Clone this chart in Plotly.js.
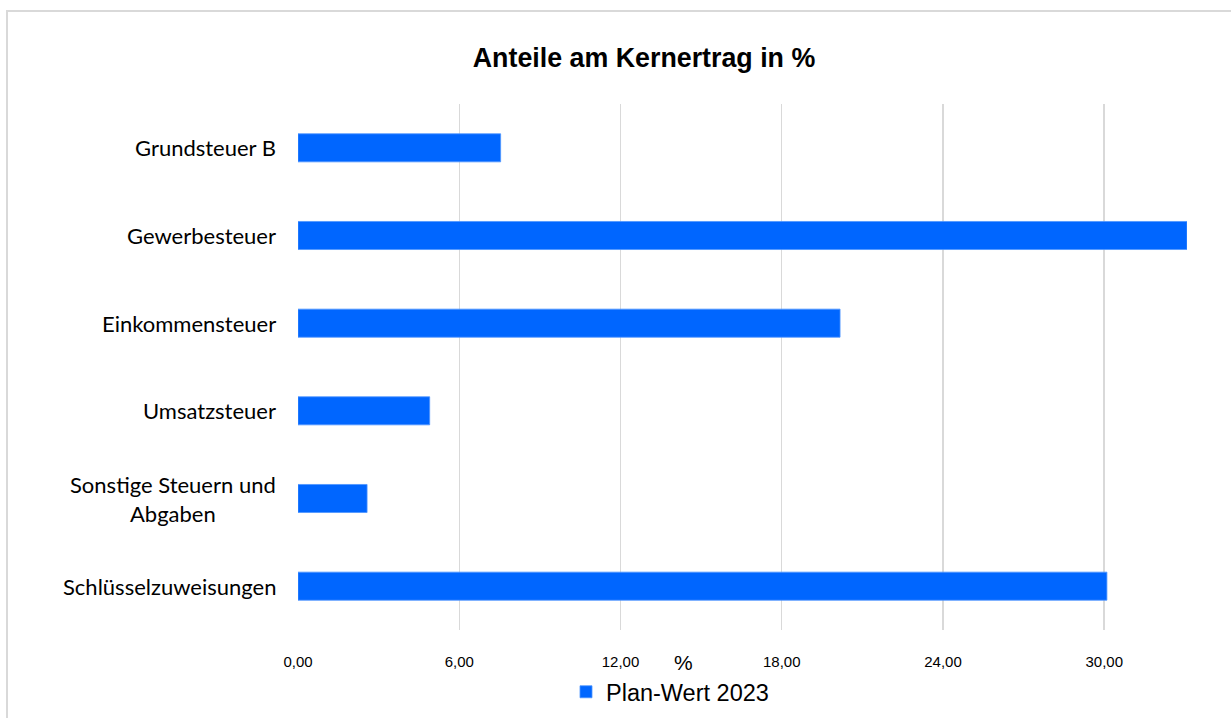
<!DOCTYPE html>
<html>
<head>
<meta charset="utf-8">
<script src="https://cdn.plot.ly/plotly-3.0.1.min.js"></script>
<style>
  html, body { margin: 0; padding: 0; background: #ffffff; overflow: hidden; }
  #wrap { position: relative; width: 1231px; height: 718px; }
  #chart { position: absolute; left: 0; top: 0; width: 1231px; height: 718px; }
  #frame { position: absolute; left: 6px; top: 10px; width: 1300px; height: 800px;
           border: 2px solid #d9d9d9; pointer-events: none; box-sizing: border-box; }
</style>
</head>
<body>
<div id="wrap">
  <div id="chart"></div>
  <div id="frame"></div>
</div>
<script>
// Data (top to bottom as shown)
const categories = ["Grundsteuer B", "Gewerbesteuer", "Einkommensteuer", "Umsatzsteuer", "Sonstige Steuern und Abgaben", "Schlüsselzuweisungen"];
const categoryLabels = ["Grundsteuer B", "Gewerbesteuer", "Einkommensteuer", "Umsatzsteuer", "Sonstige Steuern und<br>Abgaben", "Schlüsselzuweisungen"];
const planWert2023 = [7.54, 33.08, 20.17, 4.90, 2.57, 30.10];
const seriesName = "Plan-Wert 2023";
const tickValues = [0, 6, 12, 18, 24, 30];
const chartTitle = "Anteile am Kernertrag in %";
const xAxisTitle = "%";

const W = 1231, H = 718;
const marginL = 298, marginR = 44, marginT = 104, marginB = 88;
const plotW = W - marginL - marginR;
const plotH = H - marginT - marginB;

const trace = {
  type: "bar",
  orientation: "h",
  x: planWert2023,
  y: categories,
  name: seriesName,
  marker: { color: "#0066ff", line: { color: "#4d94ff", width: 0.8 } },
  hoverinfo: "x+y",
  showlegend: true
};

const labelAnnotations = categories.map((c, i) => ({
  xref: "paper", yref: "y",
  x: (278 - marginL) / plotW, y: c,
  xanchor: "right", yanchor: "middle",
  align: "center",
  text: categoryLabels[i],
  showarrow: false,
  font: { family: "Lato, 'Open Sans', sans-serif", size: 22, color: "#000000" }
}));

const layout = {
  width: W, height: H,
  margin: { l: marginL, r: marginR, t: marginT, b: marginB, autoexpand: false },
  paper_bgcolor: "#ffffff",
  plot_bgcolor: "#ffffff",
  separators: ", ",
  bargap: 0.68,
  title: {
    text: "<b>" + chartTitle + "</b>",
    font: { family: "Liberation Sans, Arial, sans-serif", size: 26.8, color: "#000000" },
    x: 644 / W, xref: "container", xanchor: "center",
    y: 1 - 58 / H, yref: "container", yanchor: "middle"
  },
  xaxis: {
    range: [0, 33.08],
    tickvals: tickValues,
    tickformat: ".2f",
    showgrid: true,
    gridcolor: "#d9d9d9",
    gridwidth: 1.5,
    zeroline: false,
    showline: false,
    ticks: "",
    ticklabelstandoff: 21,
    tickfont: { family: "Liberation Sans, Arial, sans-serif", size: 15, color: "#000000" },
    fixedrange: true
  },
  yaxis: {
    type: "category",
    autorange: "reversed",
    showticklabels: false,
    showgrid: false,
    zeroline: false,
    showline: false,
    ticks: "",
    fixedrange: true
  },
  annotations: labelAnnotations.concat([{
    xref: "paper", yref: "paper",
    x: (683 - marginL) / plotW, y: -(662 - (marginT + plotH)) / plotH,
    xanchor: "center", yanchor: "middle",
    text: xAxisTitle, showarrow: false,
    font: { family: "Liberation Sans, Arial, sans-serif", size: 21, color: "#000000" }
  }]),
  legend: {
    orientation: "h",
    x: (670 - marginL) / plotW, xanchor: "center",
    y: -(692 - (marginT + plotH)) / plotH, yanchor: "middle",
    font: { family: "Liberation Sans, Arial, sans-serif", size: 23.5, color: "#000000" },
    itemwidth: 30,
    bgcolor: "rgba(0,0,0,0)"
  },
  showlegend: true
};

Plotly.newPlot("chart", [trace], layout, { displayModeBar: false, staticPlot: true });
</script>
</body>
</html>
